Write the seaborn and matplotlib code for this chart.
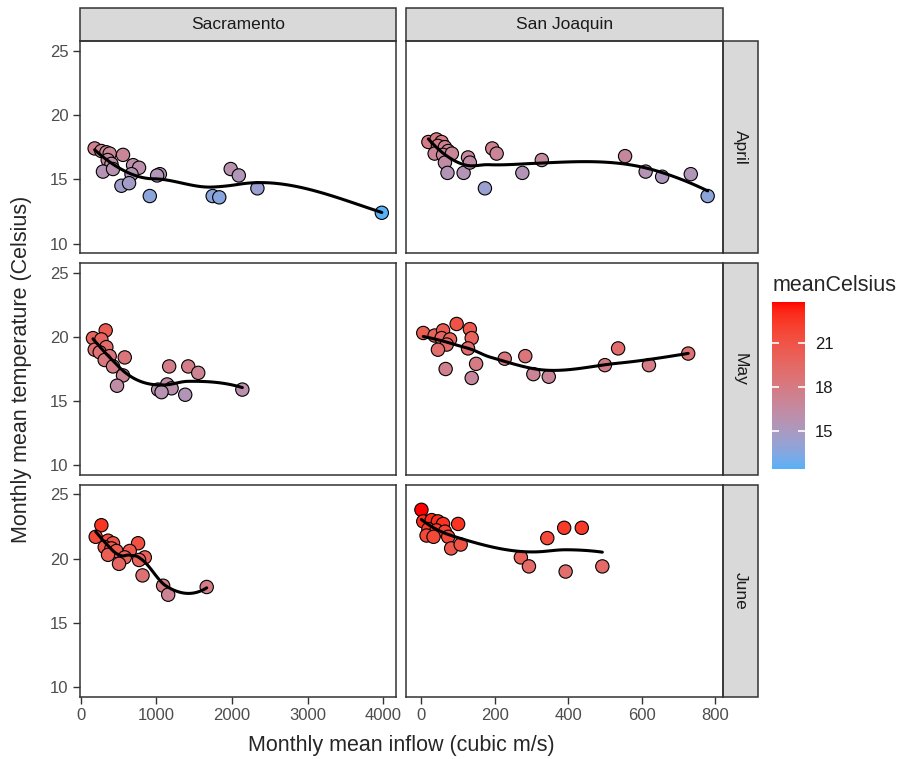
import numpy as np
import pandas as pd
import seaborn as sns
import matplotlib as mpl
import matplotlib.pyplot as plt
from matplotlib.colors import ListedColormap, Normalize, to_rgb
from matplotlib.patches import Rectangle

# facets
months = ['April', 'May', 'June']
rivers = ['Sacramento', 'San Joaquin']

# Sacramento
sac_apr_flow = [185, 274, 340, 384, 560, 358, 407, 295, 428, 693, 772, 672, 539, 640,
                1047, 1011, 914, 1983, 2090, 1745, 1832, 2336, 3980]
sac_apr_temp = [17.4, 17.2, 17.1, 17.0, 16.9, 16.5, 16.2, 15.6, 15.8, 16.1, 15.9, 15.4, 14.5, 14.7,
                15.4, 15.3, 13.7, 15.8, 15.3, 13.7, 13.6, 14.3, 12.4]
sac_may_flow = [331, 163, 274, 340, 186, 252, 384, 318, 428, 583, 560, 481, 1170, 1422,
                1554, 1143, 1024, 1202, 1069, 1382, 2137]
sac_may_temp = [20.5, 19.9, 19.8, 19.2, 19.0, 18.8, 18.5, 18.2, 17.7, 18.4, 17.0, 16.2, 17.7, 17.7,
                17.2, 16.3, 15.9, 16.0, 15.7, 15.5, 15.9]
sac_jun_flow = [274, 199, 362, 428, 318, 407, 473, 362, 759, 649, 583, 507, 848, 772,
                818, 1090, 1157, 1666]
sac_jun_temp = [22.6, 21.7, 21.4, 21.2, 20.9, 20.8, 20.6, 20.3, 21.2, 20.6, 20.1, 19.6, 20.1, 19.9,
                18.7, 17.9, 17.2, 17.8]

# San Joaquin
sj_apr_flow = [19, 41, 55, 45, 64, 73, 36, 59, 83, 64, 71, 115, 127, 132, 173, 193, 205,
               275, 328, 555, 611, 656, 734, 780]
sj_apr_temp = [17.9, 18.1, 17.9, 17.6, 17.5, 17.2, 17.0, 16.9, 17.0, 16.3, 15.5, 15.5, 16.7, 16.3,
               14.3, 17.4, 17.0, 15.5, 16.5, 16.8, 15.6, 15.2, 15.4, 13.7]
sj_may_flow = [5, 36, 59, 55, 78, 69, 45, 96, 132, 137, 127, 66, 149, 137, 227, 283, 305,
               347, 500, 536, 620, 727]
sj_may_temp = [20.3, 20.1, 20.5, 19.9, 19.8, 19.4, 19.0, 21.0, 20.6, 19.9, 19.1, 17.5, 17.9, 16.8,
               18.3, 18.5, 17.1, 16.9, 17.8, 19.1, 17.8, 18.7]
sj_jun_flow = [0, 5, 28, 45, 59, 19, 41, 64, 14, 33, 73, 100, 81, 107, 271, 293, 343,
               389, 437, 393, 493]
sj_jun_temp = [23.8, 22.9, 23.0, 22.9, 22.7, 22.3, 22.2, 22.1, 21.8, 21.7, 21.7, 22.7, 20.8, 21.1,
               20.1, 19.4, 21.6, 22.4, 22.4, 19.0, 19.4]

x_ticks = {'Sacramento': [0, 1000, 2000, 3000, 4000],
           'San Joaquin': [0, 200, 400, 600, 800]}
x_lims = {'Sacramento': (-15, 4170), 'San Joaquin': (-42, 821)}
y_ticks = [10, 15, 20, 25]

panels = [('Sacramento', 'April', sac_apr_flow, sac_apr_temp),
          ('Sacramento', 'May', sac_may_flow, sac_may_temp),
          ('Sacramento', 'June', sac_jun_flow, sac_jun_temp),
          ('San Joaquin', 'April', sj_apr_flow, sj_apr_temp),
          ('San Joaquin', 'May', sj_may_flow, sj_may_temp),
          ('San Joaquin', 'June', sj_jun_flow, sj_jun_temp)]
df = pd.concat([pd.DataFrame({'river': r, 'month': m, 'inflow': f, 'meanCelsius': t})
                for r, m, f, t in panels], ignore_index=True)


# ggplot-like gradient (interpolated in CIELAB)
M_RGB = np.array([[0.4124, 0.3576, 0.1805], [0.2126, 0.7152, 0.0722], [0.0193, 0.1192, 0.9505]])
WHITE = np.array([0.95047, 1.0, 1.08883])


def rgb2lab(c):
    c = np.asarray(c, float)
    lin = np.where(c > 0.04045, ((c + 0.055) / 1.055) ** 2.4, c / 12.92)
    xyz = M_RGB @ lin / WHITE
    f = np.where(xyz > (6 / 29) ** 3, np.cbrt(xyz), xyz / (3 * (6 / 29) ** 2) + 4 / 29)
    return np.array([116 * f[1] - 16, 500 * (f[0] - f[1]), 200 * (f[1] - f[2])])


def lab2rgb(lab):
    L, a, b = lab
    fy = (L + 16) / 116
    f = np.array([fy + a / 500, fy, fy - b / 200])
    xyz = np.where(f > 6 / 29, f ** 3, 3 * (6 / 29) ** 2 * (f - 4 / 29)) * WHITE
    lin = np.linalg.inv(M_RGB) @ xyz
    c = np.where(lin > 0.0031308, 1.055 * np.clip(lin, 0, None) ** (1 / 2.4) - 0.055, 12.92 * lin)
    return np.clip(c, 0, 1)


lo, hi = rgb2lab(to_rgb('#56B1F7')), rgb2lab(to_rgb('#FF0000'))
cmap = ListedColormap([lab2rgb(lo + (hi - lo) * t) for t in np.linspace(0, 1, 256)])
norm = Normalize(df['meanCelsius'].min(), df['meanCelsius'].max())


def local_fit(xs, ys, x0, q):
    # local quadratic with tricube weights -> value and slope at x0
    d = np.abs(xs - x0)
    ds = np.sort(d)
    h = ds[q - 1] if q >= len(xs) else (ds[q - 1] + ds[q]) / 2
    h = max(h, 1e-9)
    w = np.where(d < h, (1 - (d / h) ** 3) ** 3, 0.0)
    u = (xs - x0) / h
    X = np.column_stack([np.ones_like(u), u, u ** 2])
    sw = np.sqrt(w)
    coef = np.linalg.lstsq(X * sw[:, None], ys * sw, rcond=None)[0]
    return coef[0], coef[1] / h


def loess_line(data, x, y, span=0.75, **kws):
    # loess as in R: fit at kd-tree vertices, cubic Hermite in between
    xs = data[x].to_numpy(float)
    ys = data[y].to_numpy(float)
    n = len(xs)
    q = int(np.floor(n * span))
    fc = int(np.floor(n * span * 0.2))
    mu = 0.005 * (xs.max() - xs.min())
    verts = {xs.min() - mu, xs.max() + mu}

    def split(pts, a, b):
        if len(pts) <= fc:
            return
        m = np.median(pts)
        if m <= a or m >= b:
            return
        verts.add(m)
        split(pts[pts <= m], a, m)
        split(pts[pts > m], m, b)

    split(np.sort(xs), xs.min() - mu, xs.max() + mu)
    v = np.array(sorted(verts))
    vals = np.array([local_fit(xs, ys, vx, q) for vx in v])
    grid = np.linspace(xs.min(), xs.max(), 80)
    fit = []
    for g0 in grid:
        k = min(np.searchsorted(v, g0, side='right') - 1, len(v) - 2)
        x0, x1 = v[k], v[k + 1]
        dx = x1 - x0
        t = (g0 - x0) / dx
        h00 = 2 * t ** 3 - 3 * t ** 2 + 1
        h10 = t ** 3 - 2 * t ** 2 + t
        h01 = -2 * t ** 3 + 3 * t ** 2
        h11 = t ** 3 - t ** 2
        fit.append(h00 * vals[k, 0] + h10 * dx * vals[k, 1] + h01 * vals[k + 1, 0] + h11 * dx * vals[k + 1, 1])
    plt.gca().plot(grid, fit, color='black', lw=2.2, zorder=3)


sns.set_style('white')
plt.rcParams['font.family'] = ['Liberation Sans', 'DejaVu Sans']

g = sns.FacetGrid(df, row='month', col='river', row_order=months, col_order=rivers,
                  sharex='col', sharey=True, despine=False, height=2.4, aspect=1.4)
g.map_dataframe(sns.scatterplot, x='inflow', y='meanCelsius', hue='meanCelsius',
                palette=cmap, hue_norm=norm, s=92, edgecolor='black', linewidth=0.8,
                legend=False, zorder=2)
g.map_dataframe(loess_line, x='inflow', y='meanCelsius')

fig = g.figure
fig.set_size_inches(9.11, 7.59)
fig.subplots_adjust(left=79.5 / 911, right=722.7 / 911, top=1 - 41 / 759, bottom=1 - 697 / 759,
                    wspace=0.031, hspace=0.045)

tick_grey = '#4D4D4D'
for i, month in enumerate(months):
    for j, river in enumerate(rivers):
        ax = g.axes[i, j]
        ax.set_title('')
        ax.set_xlabel('')
        ax.set_ylabel('')
        ax.set_xlim(x_lims[river])
        ax.set_ylim(9.25, 25.75)
        ax.set_xticks(x_ticks[river])
        ax.set_yticks(y_ticks)
        for sp in ax.spines.values():
            sp.set_color('#333333')
            sp.set_linewidth(1.1)
        ax.tick_params(axis='both', direction='out', length=5, width=1, color='#333333',
                       labelsize=12, labelcolor=tick_grey, pad=3)
        ax.tick_params(axis='x', bottom=(i == 2), labelbottom=(i == 2))
        ax.tick_params(axis='y', left=(j == 0), labelleft=(j == 0))
        bw, bh = ax.get_window_extent().width, ax.get_window_extent().height
        if i == 0:
            hgt = 33 / bh
            ax.add_patch(Rectangle((0, 1), 1, hgt, transform=ax.transAxes, clip_on=False,
                                   facecolor='#D9D9D9', edgecolor='#333333', lw=1.1))
            ax.text(0.5, 1 + hgt / 2, river, transform=ax.transAxes, ha='center', va='center',
                    fontsize=12.5, color='#1A1A1A')
        if j == 1:
            wid = 35 / bw
            ax.add_patch(Rectangle((1, 0), wid, 1, transform=ax.transAxes, clip_on=False,
                                   facecolor='#D9D9D9', edgecolor='#333333', lw=1.1))
            ax.text(1 + wid / 2, 0.5, month, transform=ax.transAxes, ha='center', va='center',
                    rotation=270, fontsize=12.5, color='#1A1A1A')

fig.text(401 / 911, 1 - 745 / 759, 'Monthly mean inflow (cubic m/s)', ha='center', va='center',
         fontsize=15.5)
fig.text(22 / 911, 1 - 369 / 759, 'Monthly mean temperature (Celsius)', ha='center', va='center',
         rotation=90, fontsize=15.5)

# colour bar legend
cax = fig.add_axes([772 / 911, 1 - 469 / 759, 33 / 911, 167 / 759])
sm = mpl.cm.ScalarMappable(norm=norm, cmap=cmap)
cb = fig.colorbar(sm, cax=cax, ticks=[15, 18, 21])
cb.outline.set_visible(False)
cax.tick_params(length=0, pad=7, labelsize=12, labelcolor='#1A1A1A')
cax.hlines([15, 18, 21], 0, 0.2, transform=cax.get_yaxis_transform(), colors='white', lw=1.2)
cax.hlines([15, 18, 21], 0.8, 1, transform=cax.get_yaxis_transform(), colors='white', lw=1.2)
fig.text(773 / 911, 1 - 285 / 759, 'meanCelsius', ha='left', va='center', fontsize=15.5)

fig.savefig('out.png', dpi=100)
